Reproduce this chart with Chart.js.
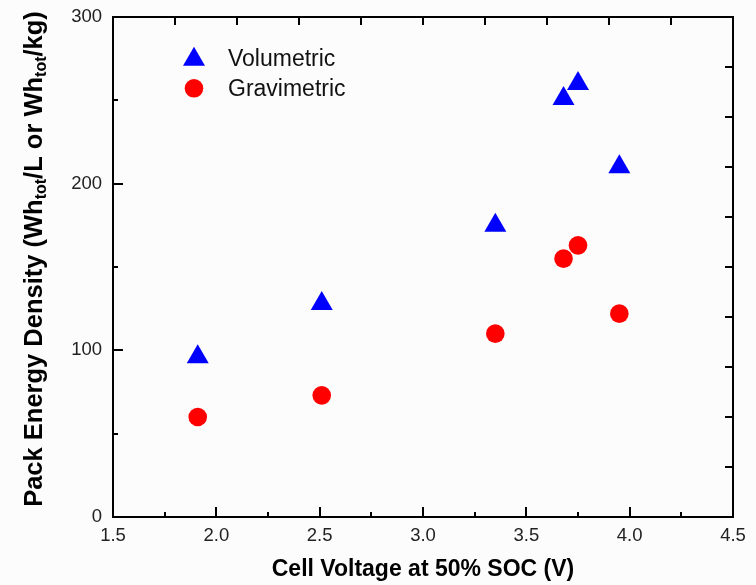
<!DOCTYPE html>
<html>
<head>
<meta charset="utf-8">
<script src="https://cdn.jsdelivr.net/npm/chart.js@4.4.1/dist/chart.umd.min.js"></script>
<style>
  html, body { margin: 0; padding: 0; background: #fcfcfc; }
</style>
</head>
<body>
<canvas id="chart" width="756" height="585"></canvas>
<script>
// values
const voltages = [1.91, 2.51, 3.35, 3.68, 3.75, 3.95];
const volumetric = [96, 128, 175, 251, 260, 210];
const gravimetric = [60, 73, 110, 155, 163, 122];

const xTicks = [1.5, 2.0, 2.5, 3.0, 3.5, 4.0, 4.5];
const yTicks = [0, 100, 200, 300];
const xMinorTicks = [1.75, 2.25, 2.75, 3.25, 3.75, 4.25];
const yMinorTicks = [50, 150, 250];

const seriesNames = ["Volumetric", "Gravimetric"];
const xTitle = "Cell Voltage at 50% SOC (V)";
// [text, isSubscript]
const yTitleParts = [
  ["Pack Energy Density (Wh", false],
  ["tot", true],
  ["/L or Wh", false],
  ["tot", true],
  ["/kg)", false],
];

const FONT = "'Liberation Sans', Arial, sans-serif";

const toPoints = (ys) => voltages.map((v, i) => ({ x: v, y: ys[i] }));

// short inner ticks between the labelled ones
const minorTicks = {
  id: "minorTicks",
  afterDraw(chart) {
    const ctx = chart.ctx;
    const area = chart.chartArea;
    const x = chart.scales.x;
    const y = chart.scales.y;
    ctx.save();
    ctx.strokeStyle = "#000";
    ctx.lineWidth = 2;
    ctx.beginPath();
    xMinorTicks.forEach((v) => {
      const px = Math.round(x.getPixelForValue(v));
      ctx.moveTo(px, area.bottom);
      ctx.lineTo(px, area.bottom - 5);
    });
    yMinorTicks.forEach((v) => {
      const py = Math.round(y.getPixelForValue(v));
      ctx.moveTo(area.left, py);
      ctx.lineTo(area.left + 5, py);
    });
    ctx.stroke();
    ctx.restore();
  },
};

// legend inside the plot, top left
const insideLegend = {
  id: "insideLegend",
  afterDraw(chart) {
    const ctx = chart.ctx;
    const area = chart.chartArea;
    const rows = [
      { my: 42.4, ty: 48.7 },
      { my: 71.3, ty: 78.7 },
    ];
    ctx.save();
    chart.data.datasets.forEach((ds, i) => {
      const r = rows[i];
      ctx.fillStyle = ds.backgroundColor;
      Chart.helpers.drawPoint(
        ctx,
        { pointStyle: ds.pointStyle, radius: ds.pointRadius, borderWidth: 0, rotation: 0 },
        area.left + 81,
        area.top + r.my
      );
      ctx.fillStyle = "#111";
      ctx.font = "23px " + FONT;
      ctx.textAlign = "left";
      ctx.textBaseline = "alphabetic";
      ctx.fillText(ds.label, area.left + 115, area.top + r.ty);
    });
    ctx.restore();
  },
};

// rotated y title with subscripts
const yTitle = {
  id: "yTitle",
  afterDraw(chart) {
    const ctx = chart.ctx;
    const big = "bold 25.5px " + FONT;
    const small = "bold 16px " + FONT;
    ctx.save();
    let total = 0;
    yTitleParts.forEach(([t, sub]) => {
      ctx.font = sub ? small : big;
      total += ctx.measureText(t).width;
    });
    ctx.translate(42, 259);
    ctx.rotate(-Math.PI / 2);
    ctx.fillStyle = "#000";
    ctx.textBaseline = "alphabetic";
    ctx.textAlign = "left";
    let pos = -total / 2;
    yTitleParts.forEach(([t, sub]) => {
      ctx.font = sub ? small : big;
      ctx.fillText(t, pos, sub ? 4 : 0);
      pos += ctx.measureText(t).width;
    });
    ctx.restore();
  },
};

const axisGrid = (len) => ({
  display: true,
  drawOnChartArea: false,
  drawTicks: true,
  tickLength: len,
  color: "#000",
  lineWidth: 2,
});
const axisBorder = { display: true, color: "#000", width: 2 };

const noPad = (s) => {
  s.paddingTop = 0;
  s.paddingBottom = 0;
  s.paddingLeft = 0;
  s.paddingRight = 0;
};

const config = {
  type: "scatter",
  data: {
    datasets: [
      {
        label: seriesNames[0],
        data: toPoints(volumetric),
        pointStyle: "triangle",
        pointRadius: 12.7,
        pointHoverRadius: 12.7,
        backgroundColor: "#0000ff",
        borderColor: "#0000ff",
        borderWidth: 0,
      },
      {
        label: seriesNames[1],
        data: toPoints(gravimetric),
        pointStyle: "circle",
        pointRadius: 9.3,
        pointHoverRadius: 9.3,
        backgroundColor: "#ff0000",
        borderColor: "#ff0000",
        borderWidth: 0,
      },
    ],
  },
  options: {
    responsive: false,
    animation: false,
    events: [],
    layout: { padding: { left: 0, right: 23, top: 17, bottom: 0 } },
    plugins: {
      legend: { display: false },
      tooltip: { enabled: false },
    },
    scales: {
      x: {
        type: "linear",
        position: "bottom",
        min: 1.5,
        max: 4.5,
        afterBuildTicks: (s) => { s.ticks = xTicks.map((v) => ({ value: v })); },
        afterFit: (s) => { s.height = 68; noPad(s); },
        grid: axisGrid(-10),
        border: axisBorder,
        ticks: {
          padding: 18,
          color: "#222",
          font: { family: FONT, size: 18.5 },
          maxRotation: 0,
          callback: (v) => Number(v).toFixed(1),
        },
        title: {
          display: true,
          text: xTitle,
          color: "#000",
          font: { family: FONT, size: 23, weight: "bold" },
          padding: { top: 0, bottom: 2 },
        },
      },
      y: {
        type: "linear",
        position: "left",
        min: 0,
        max: 300,
        afterBuildTicks: (s) => { s.ticks = yTicks.map((v) => ({ value: v })); },
        afterFit: (s) => { s.width = 113; noPad(s); },
        grid: axisGrid(-10),
        border: axisBorder,
        ticks: {
          padding: 21,
          color: "#222",
          font: { family: FONT, size: 18.5 },
        },
      },
      x2: {
        type: "linear",
        position: "top",
        min: 1.5,
        max: 4.5,
        ticks: { display: false, stepSize: 0.3 },
        afterFit: (s) => { s.height = 0; noPad(s); },
        grid: axisGrid(-8),
        border: axisBorder,
      },
      y2: {
        type: "linear",
        position: "right",
        min: 0,
        max: 300,
        ticks: { display: false, stepSize: 30 },
        afterFit: (s) => { s.width = 0; noPad(s); },
        grid: axisGrid(-8),
        border: axisBorder,
      },
    },
  },
  plugins: [minorTicks, insideLegend, yTitle],
};

const chart = new Chart(document.getElementById("chart").getContext("2d"), config);
</script>
</body>
</html>
